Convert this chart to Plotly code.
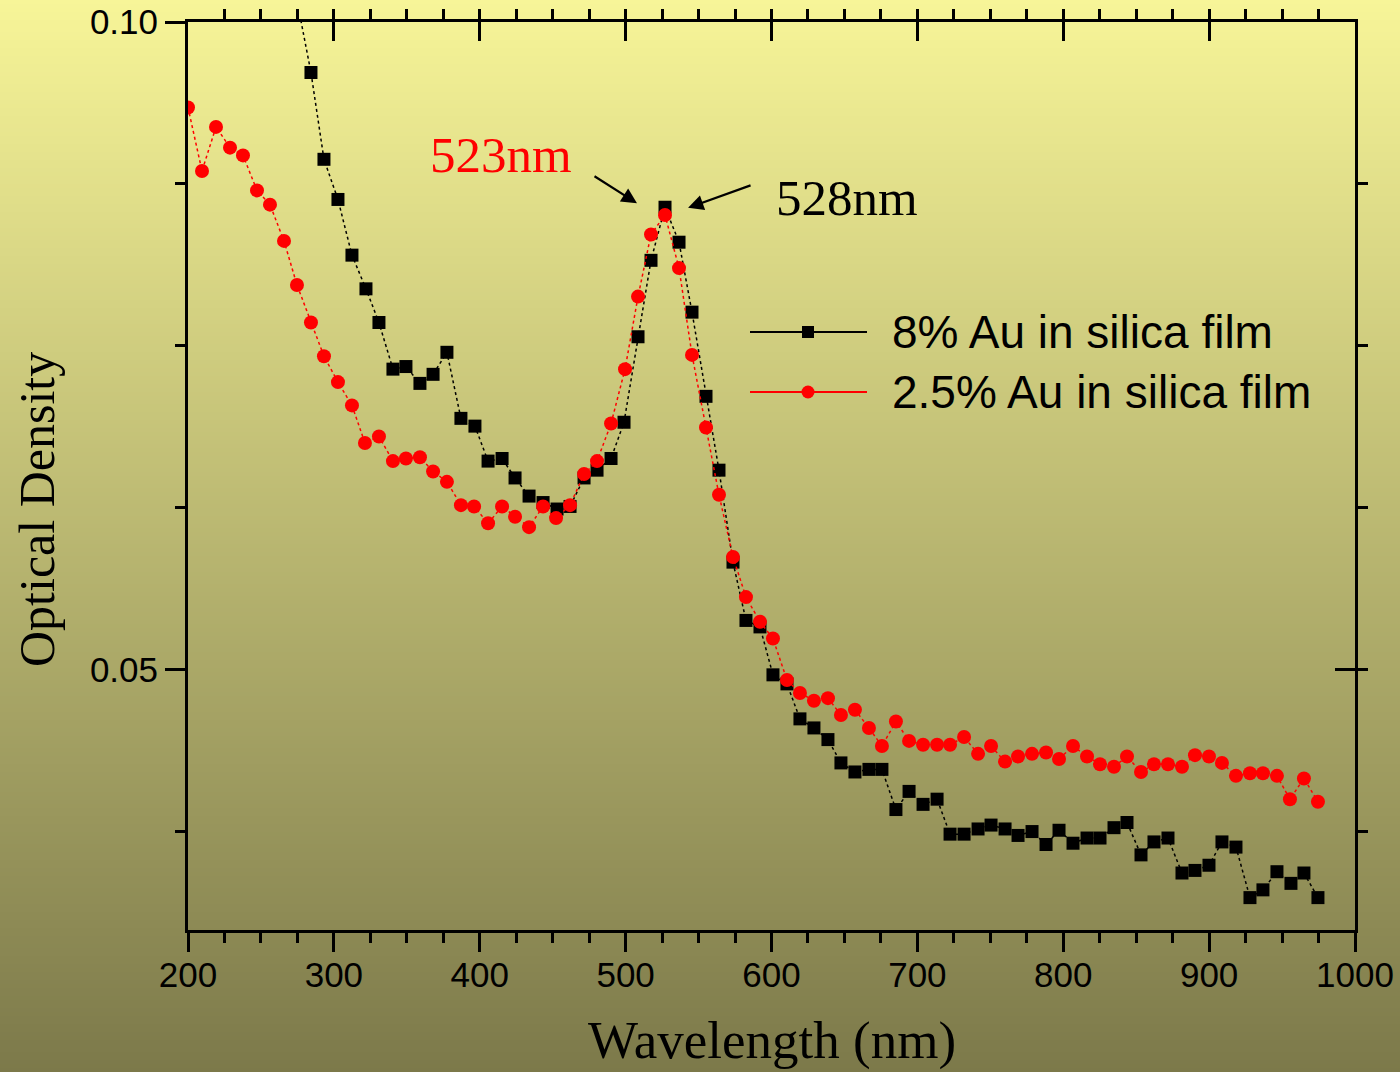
import plotly.graph_objects as go

# ---------------- data ----------------
wl_black = [275.0, 284.3, 293.2, 302.8, 312.4, 322.0, 330.9, 340.5, 349.4, 359.0, 368.0, 377.5,
            387.1, 396.7, 405.7, 415.3, 424.2, 433.8, 443.4, 453.0, 461.9, 471.5, 480.4, 490.0,
            498.9, 508.5, 517.4, 527.0, 536.6, 545.5, 555.1, 564.0, 573.6, 582.5, 592.1, 601.0,
            610.6, 619.5, 629.1, 638.7, 647.6, 657.2, 666.8, 675.7, 685.3, 694.3, 703.9, 713.5,
            722.4, 732.0, 741.6, 750.5, 760.1, 769.0, 778.6, 788.2, 797.1, 806.7, 816.3, 825.2,
            834.8, 843.7, 853.3, 862.2, 871.8, 881.4, 890.3, 899.9, 908.8, 918.4, 928.0, 936.9,
            946.5, 956.1, 965.0, 974.6]
od_black = [0.1015, 0.0961, 0.0894, 0.0863, 0.0820, 0.0794, 0.0768, 0.0732, 0.0734, 0.0721, 0.0728, 0.0745,
            0.0694, 0.0688, 0.0661, 0.0663, 0.0648, 0.0634, 0.0629, 0.0624, 0.0626, 0.0648, 0.0654, 0.0663,
            0.0691, 0.0757, 0.0816, 0.0857, 0.0830, 0.0776, 0.0711, 0.0654, 0.0583, 0.0538, 0.0533, 0.0496,
            0.0489, 0.0462, 0.0455, 0.0446, 0.0428, 0.0421, 0.0423, 0.0423, 0.0392, 0.0406, 0.0396, 0.0400,
            0.0373, 0.0373, 0.0377, 0.0380, 0.0377, 0.0372, 0.0375, 0.0365, 0.0376, 0.0366, 0.0370, 0.0370,
            0.0378, 0.0382, 0.0357, 0.0367, 0.0370, 0.0343, 0.0345, 0.0349, 0.0367, 0.0363, 0.0324, 0.0330,
            0.0344, 0.0335, 0.0343, 0.0324]

wl_red = [200.0, 209.6, 219.2, 228.8, 237.7, 247.3, 256.2, 265.8, 274.7, 284.3, 293.2, 302.8,
          312.4, 321.3, 330.9, 340.5, 349.4, 359.0, 368.0, 377.5, 387.1, 396.1, 405.7, 415.3,
          424.2, 433.8, 443.4, 452.3, 461.9, 471.5, 480.4, 490.0, 499.6, 508.5, 517.4, 527.0,
          536.6, 545.5, 555.1, 564.0, 573.6, 582.5, 592.1, 601.0, 610.6, 619.5, 629.1, 638.7,
          647.6, 657.2, 666.8, 675.7, 685.3, 694.3, 703.9, 713.5, 722.4, 732.0, 741.6, 750.5,
          760.1, 769.0, 778.6, 788.2, 797.1, 806.7, 816.3, 825.2, 834.8, 843.7, 853.3, 862.2,
          871.8, 881.4, 890.3, 899.9, 908.8, 918.4, 928.0, 936.9, 946.5, 955.4, 965.0, 974.6]
od_red = [0.0934, 0.0885, 0.0919, 0.0903, 0.0897, 0.0870, 0.0859, 0.0831, 0.0797, 0.0768, 0.0742, 0.0722,
          0.0704, 0.0675, 0.0680, 0.0661, 0.0663, 0.0664, 0.0653, 0.0645, 0.0627, 0.0626, 0.0613, 0.0626,
          0.0618, 0.0610, 0.0626, 0.0617, 0.0627, 0.0651, 0.0661, 0.0690, 0.0732, 0.0788, 0.0836, 0.0851,
          0.0810, 0.0743, 0.0687, 0.0635, 0.0587, 0.0556, 0.0537, 0.0524, 0.0492, 0.0482, 0.0476, 0.0478,
          0.0465, 0.0469, 0.0455, 0.0441, 0.0460, 0.0445, 0.0442, 0.0442, 0.0442, 0.0448, 0.0435, 0.0441,
          0.0429, 0.0433, 0.0435, 0.0436, 0.0431, 0.0441, 0.0433, 0.0427, 0.0425, 0.0433, 0.0421, 0.0427,
          0.0427, 0.0425, 0.0434, 0.0433, 0.0428, 0.0418, 0.0420, 0.0420, 0.0418, 0.0400, 0.0416, 0.0398]

series_names = ["8% Au in silica film", "2.5% Au in silica film"]
peak_labels = ["523nm", "528nm"]
x_title = "Wavelength (nm)"
y_title = "Optical Density"
x_range = [200, 1000]
y_range = [0.0299, 0.10]
x_tickvals = [200, 300, 400, 500, 600, 700, 800, 900, 1000]
y_tickvals = [0.05, 0.10]
y_ticktext = ["0.05", "0.10"]

# ---------------- figure ----------------
W, H = 1400, 1072
ML, MR, MT, MB = 188, 45, 22, 142
PW, PH = W - ML - MR, H - MT - MB

fig = go.Figure()

fig.add_trace(go.Scatter(
    x=wl_black, y=od_black, name=series_names[0], mode="lines+markers",
    line=dict(color="black", width=1.5, dash="dot"),
    marker=dict(symbol="square", size=13, color="black"),
    xaxis="x", yaxis="y", showlegend=False))

fig.add_trace(go.Scatter(
    x=wl_red, y=od_red, name=series_names[1], mode="lines+markers",
    line=dict(color="#ff0000", width=1.5, dash="dot"),
    marker=dict(symbol="circle", size=14, color="#ff0000"),
    xaxis="x2", yaxis="y2", showlegend=False))

# background gradient (top yellow -> bottom olive)
top_c = (247, 245, 152)
bot_c = (124, 121, 74)
shapes = []
nb = 268
y_lo = -MB / PH
y_hi = 1 + MT / PH
x_lo = -ML / PW - 0.01
x_hi = 1 + MR / PW + 0.01
for i in range(nb):
    f0 = i / nb
    f1 = (i + 1) / nb
    t = (i + 0.5) / nb  # 0 top -> 1 bottom
    c = tuple(round(top_c[k] + (bot_c[k] - top_c[k]) * t) for k in range(3))
    shapes.append(dict(type="rect", xref="paper", yref="paper", layer="below",
                       x0=x_lo, x1=x_hi,
                       y0=y_hi - (y_hi - y_lo) * f1 - 0.001,
                       y1=y_hi - (y_hi - y_lo) * f0,
                       line=dict(width=0), fillcolor="rgb(%d,%d,%d)" % c))


def px2paper_x(px):
    return (px - ML) / PW


def px2paper_y(py):
    return (MT + PH - py) / PH


# manual legend (long line samples)
leg_rows = [(332, "black", "square", series_names[0]), (392, "#ff0000", "circle", series_names[1])]
annotations = []
for py, col, sym, name in leg_rows:
    yy = px2paper_y(py)
    shapes.append(dict(type="line", xref="paper", yref="paper", layer="above",
                       x0=px2paper_x(750), x1=px2paper_x(867), y0=yy, y1=yy,
                       line=dict(color=col, width=2)))
    s = 6 if sym == "square" else 6.5
    shapes.append(dict(type="rect" if sym == "square" else "circle",
                       xref="paper", yref="paper", layer="above",
                       xsizemode="pixel", ysizemode="pixel",
                       xanchor=px2paper_x(808), yanchor=yy,
                       x0=-s, x1=s, y0=-s, y1=s,
                       line=dict(width=0), fillcolor=col))
    annotations.append(dict(xref="paper", yref="paper", x=px2paper_x(890), y=yy,
                            xanchor="left", yanchor="middle", showarrow=False,
                            text=name, font=dict(family="Liberation Sans, Arial", size=46, color="black")))

serif = "Liberation Serif, Times New Roman"
# peak labels
annotations.append(dict(x=414.6, y=0.0897, xref="x", yref="y", text=peak_labels[0], showarrow=False,
                        font=dict(family=serif, size=51, color="#ff0000")))
annotations.append(dict(x=651.8, y=0.0864, xref="x", yref="y", text=peak_labels[1], showarrow=False,
                        font=dict(family=serif, size=51, color="black")))
# arrows
annotations.append(dict(x=507.8, y=0.0860, xref="x", yref="y", text="", showarrow=True,
                        ax=-44, ay=-28, arrowhead=2, arrowsize=1.4, arrowwidth=2.2, arrowcolor="black"))
annotations.append(dict(x=542.8, y=0.08565, xref="x", yref="y", text="", showarrow=True,
                        ax=64, ay=-23, arrowhead=2, arrowsize=1.4, arrowwidth=2.2, arrowcolor="black"))

# axis titles
annotations.append(dict(xref="paper", yref="paper", x=px2paper_x(772), y=px2paper_y(1072),
                        xanchor="center", yanchor="bottom", showarrow=False, text=x_title,
                        font=dict(family=serif, size=53, color="black")))
annotations.append(dict(xref="paper", yref="paper", x=px2paper_x(37), y=px2paper_y(510),
                        xanchor="center", yanchor="middle", showarrow=False, text=y_title, textangle=-90,
                        font=dict(family=serif, size=50, color="black")))

tickfont = dict(family="Liberation Sans, Arial", size=35, color="black")

common_x = dict(range=x_range, showgrid=False, zeroline=False, linecolor="black", linewidth=3,
                tickcolor="black", tickwidth=3, ticklen=19, tickvals=x_tickvals,
                minor=dict(dtick=25, tick0=200, ticklen=10, tickcolor="black", tickwidth=3, showgrid=False))
common_y = dict(range=y_range, showgrid=False, zeroline=False, linecolor="black", linewidth=3,
                tickcolor="black", tickwidth=3, ticklen=20, tickvals=y_tickvals,
                minor=dict(dtick=0.0125, tick0=0.05, ticklen=10, tickcolor="black", tickwidth=3, showgrid=False))

fig.update_layout(
    width=W, height=H,
    margin=dict(l=ML, r=MR, t=MT, b=MB, autoexpand=False),
    paper_bgcolor="rgb(124,121,74)",
    plot_bgcolor="rgba(0,0,0,0)",
    showlegend=False,
    xaxis=dict(**common_x, ticks="outside", side="bottom", ticktext=[str(v) for v in x_tickvals],
               tickfont=tickfont, ticklabelstandoff=-7),
    yaxis=dict(**common_y, ticks="outside", side="left", ticktext=y_ticktext, tickfont=tickfont),
    xaxis2=dict(**common_x, ticks="inside", side="top", overlaying="x", matches="x",
                showticklabels=False, anchor="y2"),
    yaxis2=dict(**common_y, ticks="inside", side="right", overlaying="y", matches="y",
                showticklabels=False, anchor="x2"),
    shapes=shapes,
    annotations=annotations,
)

fig.write_html("out.html", config={"displayModeBar": False},
               post_script="document.body.style.margin='0';document.body.style.padding='0';")
